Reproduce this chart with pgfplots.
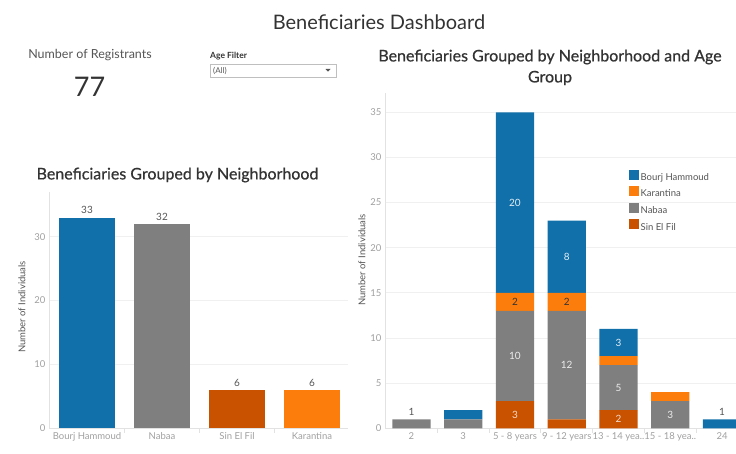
\documentclass[border=0pt]{standalone}
\usepackage{pgfplots}
\pgfplotsset{compat=1.18}
\usepackage{fontspec}
\setmainfont{Lato}
\newfontfamily\titlefont[FakeBold=0.6]{Lato}
\definecolor{bh}{HTML}{1170AA}
\definecolor{kar}{HTML}{FC7D0B}
\definecolor{nab}{HTML}{7F7F7F}
\definecolor{sef}{HTML}{C85200}
\definecolor{titlec}{HTML}{333333}
\definecolor{labc}{HTML}{555555}
\definecolor{tickc}{HTML}{A0A0A0}
\definecolor{gridc}{HTML}{F0F0F0}
\definecolor{axc}{HTML}{E2E2E2}
\pgfplotsset{
  dash/.style={scale only axis, /pgf/number format/assume math mode=true,
   tick label style={font=\fontsize{9.5}{11}\selectfont, text=tickc},
   axis x line*=bottom, axis y line*=left,
   axis line style={draw=axc, line width=0.7pt},
   ymajorgrids, grid style={draw=gridc, line width=0.7pt},
   major tick length=0pt, minor tick length=5pt, tick align=outside,
   minor tick style={draw=axc, line width=0.7pt},
   xticklabel style={yshift=-1pt},
  }
}
\begin{document}
\begin{tikzpicture}[x=1pt,y=1pt]
\path[use as bounding box] (0,0) rectangle (736,454);
% header
\node[text=titlec, font=\fontsize{20}{22}\selectfont] at (379,432) {Beneficiaries Dashboard};
\node[text=labc, font=\fontsize{12.5}{14}\selectfont] at (90,399) {Number of Registrants};
\node[text=titlec, font=\fontsize{27}{30}\selectfont] at (89.5,367) {77};
\node[anchor=west, inner sep=0pt, text=titlec, font=\bfseries\fontsize{8.5}{10}\selectfont] at (210,398) {Age Filter};
\draw[draw=black!25, line width=0.6pt] (210,377) rectangle (336,390);
\node[anchor=west, inner sep=0pt, text=labc, font=\fontsize{8}{9}\selectfont] at (213,383.5) {(All)};
\fill[labc] (325.5,385) -- (330.5,385) -- (328,382.3) -- cycle;
% titles
\node[text=titlec, font=\titlefont\fontsize{16}{18}\selectfont] at (177.5,279) {Beneficiaries Grouped by Neighborhood};
\node[text=titlec, font=\titlefont\fontsize{16}{18}\selectfont] at (550,397) {Beneficiaries Grouped by Neighborhood and Age};
\node[text=titlec, font=\titlefont\fontsize{16}{18}\selectfont] at (550,376) {Group};
% y labels
\node[rotate=90, text=labc, font=\fontsize{9.5}{11}\selectfont] at (22,147) {Number of Individuals};
\node[rotate=90, text=labc, font=\fontsize{9.5}{11}\selectfont] at (362,194) {Number of Individuals};

% left chart
\begin{axis}[dash, at={(49pt,26pt)}, anchor=south west, width=299pt, height=236pt,
  xmin=-0.507, xmax=3.48, ymin=0, ymax=37,
  ybar, bar width=0.75,
  xtick={0,1,2,3}, xticklabels={Bourj Hammoud,Nabaa,Sin El Fil,Karantina},
  ytick={0,10,20,30}, minor xtick={0.5,1.5,2.5},
  nodes near coords, nodes near coords style={font=\fontsize{10}{11}\selectfont, text=labc},
  ]
\addplot[bar shift=0pt, fill=bh, draw=none] coordinates {(0,33)};
\addplot[bar shift=0pt, fill=nab, draw=none] coordinates {(1,32)};
\addplot[bar shift=0pt, fill=sef, draw=none] coordinates {(2,6)};
\addplot[bar shift=0pt, fill=kar, draw=none] coordinates {(3,6)};
\end{axis}

% right chart
\begin{axis}[dash, at={(385pt,25.7pt)}, anchor=south west, width=351pt, height=335pt,
  xmin=-0.51, xmax=6.27, ymin=0, ymax=37.1,
  ybar stacked, bar width=0.74,
  xtick={0,1,2,3,4,5,6},
  xticklabels={2,3,5 - 8 years,9 - 12 years,13 - 14 yea..,15 - 18 yea..,24},
  ytick={0,5,10,15,20,25,30,35}, minor xtick={0.5,1.5,2.5,3.5,4.5,5.5},
  reverse legend,
  legend style={at={(0.685,0.779)}, anchor=north west, draw=none, fill=none,
    font=\fontsize{9.5}{11}\selectfont, text=labc, row sep=2.6pt,
    /tikz/every even column/.append style={column sep=3.5pt}},
  legend image code/.code={\fill[#1] (0pt,-2.2pt) rectangle (10pt,7.8pt);},
  legend cell align=left,
  ]
\addplot[fill=sef, draw=none] coordinates {(0,0) (1,0) (2,3) (3,1) (4,2) (5,0) (6,0)};
\addlegendentry{Sin El Fil}
\addplot[fill=nab, draw=none] coordinates {(0,1) (1,1) (2,10) (3,12) (4,5) (5,3) (6,0)};
\addlegendentry{Nabaa}
\addplot[fill=kar, draw=none] coordinates {(0,0) (1,0) (2,2) (3,2) (4,1) (5,1) (6,0)};
\addlegendentry{Karantina}
\addplot[fill=bh, draw=none] coordinates {(0,0) (1,1) (2,20) (3,8) (4,3) (5,0) (6,1)};
\addlegendentry{Bourj Hammoud}
\end{axis}

% right chart labels
\begin{axis}[at={(385pt,25.7pt)}, anchor=south west, scale only axis, width=351pt, height=335pt,
  xmin=-0.51, xmax=6.27, ymin=0, ymax=37.1, hide axis, clip=false,
  point meta=explicit symbolic,
  nodes near coords, nodes near coords style={font=\fontsize{10}{11}\selectfont, anchor=center}]
\addplot[only marks, mark=none, nodes near coords style={text=white!88!bh}] coordinates {(2,25)[20] (3,19)[8] (4,9.5)[3]};
\addplot[only marks, mark=none, nodes near coords style={text=white!85!nab}] coordinates {(2,8)[10] (3,7)[12] (4,4.5)[5] (5,1.5)[3]};
\addplot[only marks, mark=none, nodes near coords style={text=white!80!sef}] coordinates {(2,1.5)[3] (4,1)[2]};
\addplot[only marks, mark=none, nodes near coords style={text=titlec}] coordinates {(2,14)[2] (3,14)[2]};
\addplot[only marks, mark=none, nodes near coords style={text=labc, anchor=south}] coordinates {(0,1)[1] (6,1)[1]};
\end{axis}
\end{tikzpicture}
\end{document}
